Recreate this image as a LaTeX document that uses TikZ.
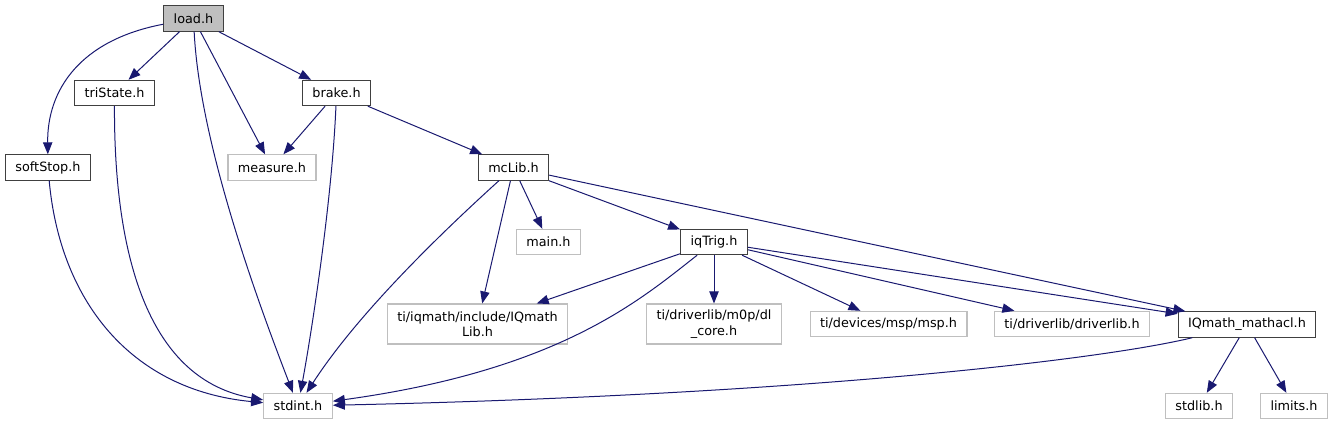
\documentclass[tikz,border=0pt]{standalone}
\usepackage{fontspec}
\setmainfont{DejaVu Sans}
\usetikzlibrary{arrows.meta}
\definecolor{edgeblue}{HTML}{191970}
\definecolor{boxgray}{HTML}{BFBFBF}
\definecolor{boxdark}{HTML}{404040}

\begin{document}
\begin{tikzpicture}[
x=0.75pt, y=-0.75pt,
every node/.style={
draw,
align=center,
font=\fontsize{9.6}{11.5}\selectfont,
inner xsep=7.5pt,
inner ysep=0pt,
minimum height=19pt,
line width=0.8pt
},
doc/.style={draw=boxdark},
ext/.style={draw=boxgray},
dep/.style={edgeblue, line width=0.75pt, -{Triangle[length=9pt,width=7pt]}}
]
\useasboundingbox (0,0) rectangle (1335,425);

% documented headers
\node[doc, fill=boxgray] (Load) at (193.5,18.5) {load.h};
\node[doc] (TriState) at (114.5,93) {triState.h};
\node[doc] (Brake) at (336.5,93) {brake.h};
\node[doc] (SoftStop) at (48,167.5) {softStop.h};
\node[doc] (McLib) at (513.5,167.5) {mcLib.h};
\node[doc] (IqTrig) at (714,242) {iqTrig.h};
\node[doc] (Mathacl) at (1247,324.5) {IQmath\_mathacl.h};

% external headers
\node[ext] (Measure) at (272,167.5) {measure.h};
\node[ext] (Main) at (548.5,242) {main.h};
\node[ext, minimum height=30pt] (IQLib) at (477.5,324) {ti/iqmath/include/IQmath\\Lib.h};
\node[ext, minimum height=30pt] (DlCore) at (714,324) {ti/driverlib/m0p/dl\\\_core.h};
\node[ext] (Msp) at (888.5,324) {ti/devices/msp/msp.h};
\node[ext] (Driverlib) at (1072,324) {ti/driverlib/driverlib.h};
\node[ext] (StdInt) at (298,406) {stdint.h};
\node[ext] (StdLib) at (1199,406) {stdlib.h};
\node[ext] (Limits) at (1294,406) {limits.h};

% load.h
\draw[dep] (Load) .. controls (80,40) and (47,90) .. (SoftStop);
\draw[dep] (Load) -- (TriState);
\draw[dep] (Load) .. controls (200,150) and (265,320) .. (StdInt);
\draw[dep] (Load) -- (Measure);
\draw[dep] (Load) -- (Brake);

\draw[dep] (TriState) .. controls (114,260) and (150,380) .. (StdInt);
\draw[dep] (SoftStop) .. controls (60,300) and (130,390) .. (StdInt);

% brake.h
\draw[dep] (Brake) -- (Measure);
\draw[dep] (Brake) .. controls (332,200) and (312,330) .. (StdInt);
\draw[dep] (Brake) -- (McLib);

% mcLib.h
\draw[dep] (McLib) .. controls (450,225) and (360,310) .. (StdInt);
\draw[dep] (McLib) -- (IQLib);
\draw[dep] (McLib) -- (Main);
\draw[dep] (McLib) -- (IqTrig);
\draw[dep] (McLib) -- (Mathacl);

% iqTrig.h
\draw[dep] (IqTrig) -- (IQLib);
\draw[dep] (IqTrig) .. controls (640,300) and (560,370) .. (StdInt);
\draw[dep] (IqTrig) -- (DlCore);
\draw[dep] (IqTrig) -- (Msp);
\draw[dep] (IqTrig) -- (Driverlib);
\draw[dep] (IqTrig) -- (Mathacl);

% IQmath_mathacl.h
\draw[dep] (Mathacl) .. controls (1100,360) and (800,395) .. (StdInt);
\draw[dep] (Mathacl) -- (StdLib);
\draw[dep] (Mathacl) -- (Limits);

\end{tikzpicture}
\end{document}
